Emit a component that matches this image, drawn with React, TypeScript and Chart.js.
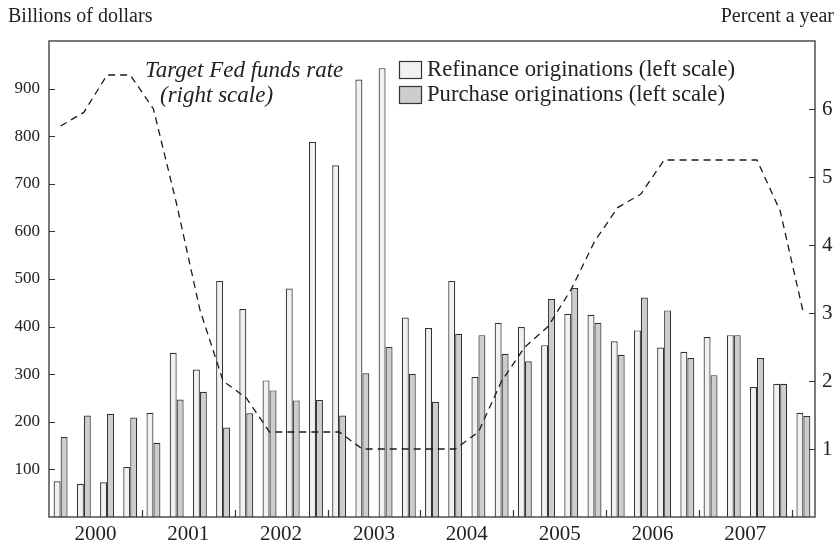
import React, { useEffect, useRef } from 'react';
import { Chart, registerables } from 'chart.js';

Chart.register(...registerables);

const quarters = [
  '2000 Q1', '2000 Q2', '2000 Q3', '2000 Q4',
  '2001 Q1', '2001 Q2', '2001 Q3', '2001 Q4',
  '2002 Q1', '2002 Q2', '2002 Q3', '2002 Q4',
  '2003 Q1', '2003 Q2', '2003 Q3', '2003 Q4',
  '2004 Q1', '2004 Q2', '2004 Q3', '2004 Q4',
  '2005 Q1', '2005 Q2', '2005 Q3', '2005 Q4',
  '2006 Q1', '2006 Q2', '2006 Q3', '2006 Q4',
  '2007 Q1', '2007 Q2', '2007 Q3', '2007 Q4',
  '2008 Q1',
];

const years = ['2000', '2001', '2002', '2003', '2004', '2005', '2006', '2007'];

// Billions of dollars (left scale)
const refinance = [
  75, 70, 73, 105,
  219, 345, 310, 496,
  437, 287, 480, 788,
  739, 919, 943, 419,
  397, 496, 294, 408,
  399, 361, 427, 425,
  369, 392, 356, 347,
  378, 382, 273, 280,
  219,
];

const purchase = [
  168, 213, 217, 209,
  156, 247, 263, 188,
  218, 266, 245, 246,
  213, 302, 357, 301,
  242, 385, 382, 343,
  327, 458, 481, 408,
  341, 461, 434, 334,
  298, 382, 334, 280,
  212,
];

// Percent a year (right scale)
const fedFunds = [
  5.75, 5.95, 6.5, 6.5,
  6.0, 4.6, 3.05, 2.0,
  1.75, 1.25, 1.25, 1.25,
  1.25, 1.0, 1.0, 1.0,
  1.0, 1.0, 1.25, 2.0,
  2.5, 2.8, 3.35, 4.05,
  4.55, 4.75, 5.25, 5.25,
  5.25, 5.25, 5.25, 4.5,
  3.0,
];

const leftLabel = 'Billions of dollars';
const rightLabel = 'Percent a year';
const refiLabel = 'Refinance originations (left scale)';
const purchLabel = 'Purchase originations (left scale)';
const fedLabel1 = 'Target Fed funds rate';
const fedLabel2 = '(right scale)';

const FONT = '"Liberation Serif", "DejaVu Serif", serif';
const INK = '#222';
const REFI_FILL = '#f1f1f1';
const PURCH_FILL = '#cdcdcd';
const EDGE = '#333';

const decor = {
  id: 'decor',
  afterDraw(chart: any) {
    const { ctx, chartArea: a, scales } = chart;
    ctx.save();
    // frame
    ctx.strokeStyle = EDGE;
    ctx.lineWidth = 1.3;
    ctx.strokeRect(a.left, a.top, a.right - a.left, a.bottom - a.top);
    ctx.lineWidth = 1.2;
    ctx.beginPath();
    // left ticks (inward)
    scales.y.ticks.forEach((t: any) => {
      if (t.value <= 0 || t.value >= 1000) return;
      const yy = Math.round(scales.y.getPixelForValue(t.value)) + 0.5;
      ctx.moveTo(a.left, yy);
      ctx.lineTo(a.left + 6, yy);
    });
    // right ticks (inward)
    scales.y1.ticks.forEach((t: any) => {
      if (t.value <= 0 || t.value >= 7) return;
      const yy = Math.round(scales.y1.getPixelForValue(t.value)) + 0.5;
      ctx.moveTo(a.right, yy);
      ctx.lineTo(a.right - 6, yy);
    });
    // bottom ticks at year boundaries
    for (let i = 1; i <= years.length; i++) {
      const xx = Math.round(scales.x2.getPixelForValue(i * 4)) + 0.5;
      ctx.moveTo(xx, a.bottom);
      ctx.lineTo(xx, a.bottom - 7);
    }
    ctx.stroke();

    // axis titles
    ctx.fillStyle = INK;
    ctx.font = `20px ${FONT}`;
    ctx.textBaseline = 'alphabetic';
    ctx.textAlign = 'left';
    ctx.fillText(leftLabel, 8, 22);
    ctx.textAlign = 'right';
    ctx.fillText(rightLabel, 834, 22);

    // legend
    const ds = chart.data.datasets;
    const entries = [
      { label: ds[0].label, fill: ds[0].backgroundColor, y: 76 },
      { label: ds[1].label, fill: ds[1].backgroundColor, y: 101 },
    ];
    ctx.font = `22.7px ${FONT}`;
    ctx.textAlign = 'left';
    entries.forEach((e) => {
      ctx.fillStyle = e.fill;
      ctx.fillRect(399, e.y - 15, 22, 17);
      ctx.strokeStyle = EDGE;
      ctx.lineWidth = 1.2;
      ctx.strokeRect(399.5, e.y - 14.5, 22, 17);
      ctx.fillStyle = INK;
      ctx.fillText(e.label, 427, e.y);
    });

    // fed funds annotation
    ctx.font = `italic 23px ${FONT}`;
    ctx.textAlign = 'left';
    ctx.fillText(fedLabel1, 145, 77);
    ctx.fillText(fedLabel2, 160, 102);
    ctx.restore();
  },
};

export default function App() {
  const ref = useRef<HTMLCanvasElement>(null);

  useEffect(() => {
    document.body.style.margin = '0';
    const canvas = ref.current!;
    const chart = new Chart(canvas, {
      type: 'bar',
      data: {
        labels: quarters,
        datasets: [
          {
            type: 'bar',
            label: refiLabel,
            data: refinance,
            backgroundColor: REFI_FILL,
            borderColor: EDGE,
            borderWidth: 1.2,
            yAxisID: 'y',
            xAxisID: 'x',
            categoryPercentage: 0.6,
            barPercentage: 1.0,
            order: 2,
          },
          {
            type: 'bar',
            label: purchLabel,
            data: purchase,
            backgroundColor: PURCH_FILL,
            borderColor: EDGE,
            borderWidth: 1.2,
            yAxisID: 'y',
            xAxisID: 'x',
            categoryPercentage: 0.6,
            barPercentage: 1.0,
            order: 2,
          },
          {
            type: 'line',
            label: 'Target Fed funds rate (right scale)',
            data: fedFunds,
            borderColor: '#1a1a1a',
            borderWidth: 1.3,
            borderDash: [7, 5],
            pointRadius: 0,
            fill: false,
            tension: 0,
            yAxisID: 'y1',
            xAxisID: 'x',
            order: 0,
          } as any,
        ],
      },
      options: {
        responsive: false,
        animation: false,
        maintainAspectRatio: false,
        layout: { padding: { top: 41, left: 0, right: 0, bottom: 0 } },
        plugins: {
          legend: { display: false },
          tooltip: { enabled: false },
          title: { display: false },
        },
        scales: {
          x: {
            type: 'category',
            display: false,
            offset: true,
            grid: { display: false },
          },
          x2: {
            type: 'linear',
            position: 'bottom',
            offset: false,
            min: 0,
            max: quarters.length,
            grid: { display: false, drawTicks: false, offset: false },
            border: { display: false },
            afterBuildTicks: (s: any) => {
              s.ticks = years.map((_, i) => ({ value: 2 + 4 * i }));
            },
            afterFit: (s: any) => {
              s.height = 30;
            },
            ticks: {
              autoSkip: false,
              maxRotation: 0,
              minRotation: 0,
              padding: 5,
              color: INK,
              font: { family: FONT, size: 21 },
              callback: (v: any) => years[Math.round((Number(v) - 2) / 4)] ?? '',
            },
          },
          y: {
            type: 'linear',
            position: 'left',
            min: 0,
            max: 1000,
            grid: { display: false, drawTicks: false },
            border: { display: false },
            afterFit: (s: any) => {
              s.width = 49;
            },
            ticks: {
              stepSize: 100,
              padding: 9,
              color: INK,
              font: { family: FONT, size: 17 },
              callback: (v: any) => (v <= 0 || v >= 1000 ? '' : String(v)),
            },
          },
          y1: {
            type: 'linear',
            position: 'right',
            min: 0,
            max: 7,
            grid: { display: false, drawTicks: false },
            border: { display: false },
            afterFit: (s: any) => {
              s.width = 24;
            },
            ticks: {
              stepSize: 1,
              padding: 7,
              color: INK,
              font: { family: FONT, size: 21 },
              callback: (v: any) => (v <= 0 || v >= 7 ? '' : String(v)),
            },
          },
        },
      },
      plugins: [decor],
    });
    return () => chart.destroy();
  }, []);

  return (
    <div style={{ width: 839, height: 547, background: '#fff' }}>
      <canvas ref={ref} width={839} height={547} style={{ display: 'block' }} />
    </div>
  );
}
